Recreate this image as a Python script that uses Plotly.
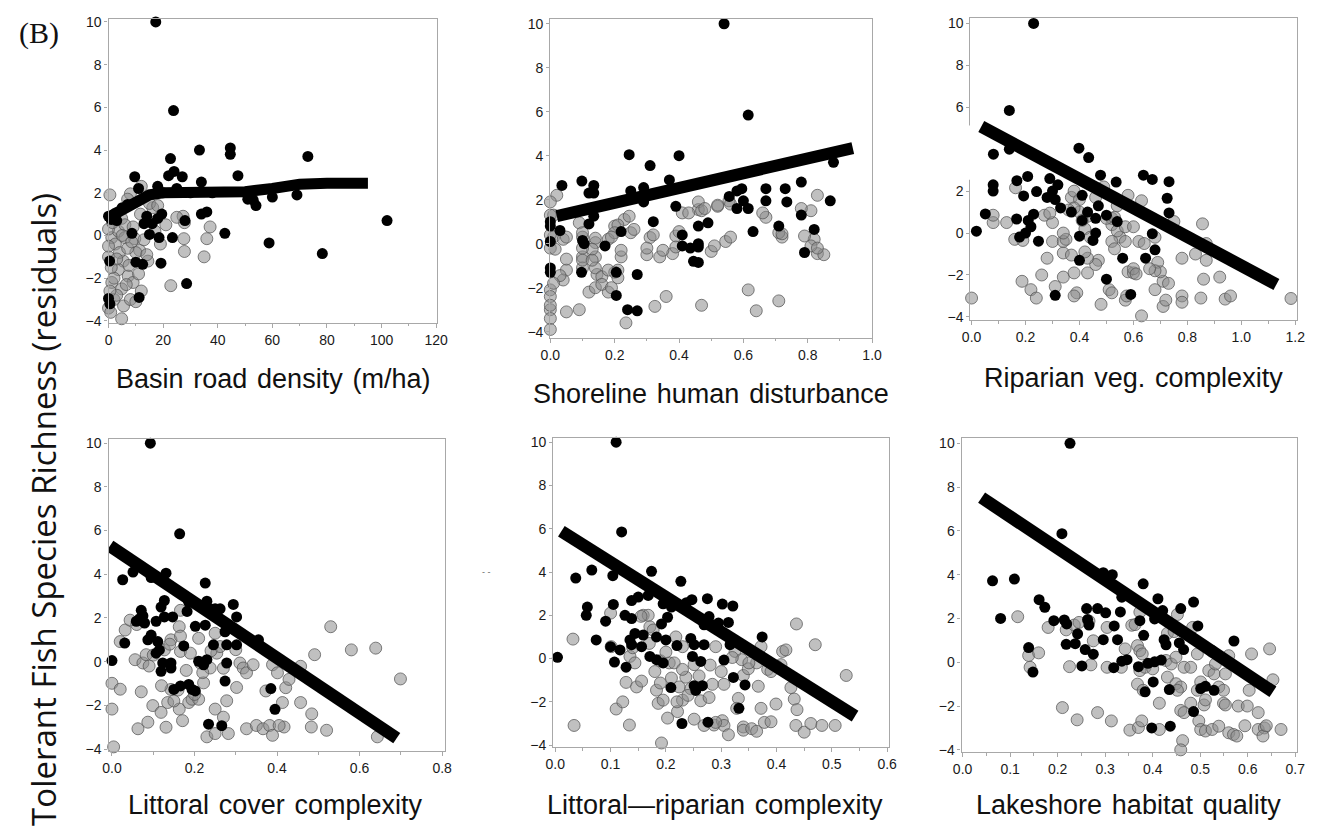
import plotly.graph_objects as go

# ---------------- data ----------------
# Panel 1: Basin road density (m/ha)
p1_black_x = [17.3, 23.8, 33.3, 44.6, 44.6, 73, 22.7, 47.4, 9.6, 34, 22, 24, 27, 60, 69, 51, 53, 54, 102, 34, 36, 28, 42.6, 58.8, 78.3, 28.6, 19.2, 11.2, 0, 0.4, 10, 12.5, 0, 11, 18, 14, 18, 19.5, 13, 16, 23.4, 15, 18.5, 8.6, 1, 3, 5, 7, 20, 25, 30, 38, 0.5]
p1_black_y = [10.0, 5.85, 4.0, 4.1, 3.8, 3.7, 3.6, 2.8, 2.75, 2.5, 2.8, 3.0, 2.75, 1.8, 1.9, 1.7, 1.65, 1.4, 0.7, 1.0, 1.1, 0.7, 0.1, -0.35, -0.85, -2.25, -1.3, -2.9, -2.95, -1.2, -1.25, -1.35, 0.9, 2.2, 2.3, 0.9, 0.8, 1.0, 0.55, 0.55, -0.1, 0.05, -0.1, 0.1, 0.75, 0.7, 1.3, 1.45, 2.0, 2.2, 2.0, 2.0, -3.2]
p1_gray_x = [0.5, 12, 8, 7, 11.7, 27.3, 27.8, 37.2, 36, 27.6, 27.8, 35, 22.8, 16.2, 4.8, 1.2, 2.5, 3.6, 6, 9.6, 11.4, 14.4, 5.4, 3.6, 7.2, 1.2, 4.8, 12, 4.8, 0, 5.5, 2, 8, 0, 0, 0, 2, 9, 10, 6, 9, 13, 15, 2.5, 1, 7.5, 3, 10, 5, 17, 19, 21, 0.5, 4, 7, 25, 18, 1.5, 6.5, 3, 8.5, 11, 0.8, 14]
p1_gray_y = [1.9, 2.3, 1.95, 1.7, 1.0, 0.9, 0.6, 0.4, -0.15, -0.15, -0.75, -1.0, -2.35, 1.3, 0.8, -0.1, -0.4, 0.2, -0.1, -0.15, -0.7, -1.2, -1.2, -1.6, -1.9, -2.2, -2.5, -2.6, -3.9, -3.4, -3.3, -3.0, -3.0, -1.0, -0.5, 0.3, -2.0, -2.2, -0.8, 0.5, 0.4, -0.2, 1.5, 1.0, -1.5, -1.4, -2.8, -3.1, 0.0, 0.2, -0.4, 0.5, -2.6, -0.8, -0.6, 0.85, 1.4, 0.6, -2.3, -1.1, -0.3, -1.8, -3.6, -0.9]
p1_fit_x = [0, 2, 5, 10, 15, 20, 25, 30, 40, 50, 60, 70, 80, 95]
p1_fit_y = [0.85, 1.0, 1.3, 1.65, 1.9, 2.0, 2.0, 2.0, 2.0, 2.05, 2.2, 2.4, 2.45, 2.45]

# Panel 2: Shoreline human disturbance
p2_black_x = [0.54, 0.615, 0.245, 0.40, 0.31, 0.37, 0.098, 0.036, 0.135, 0.12, 0.135, 0.25, 0.29, 0.29, 0.39, 0.556, 0.58, 0.595, 0.6, 0.58, 0.615, 0.67, 0.67, 0.73, 0.735, 0.78, 0.88, 0.87, 0.78, 0.82, 0.79, 0.71, 0.63, 0.46, 0.49, 0.41, 0.41, 0.435, 0.46, 0.46, 0.46, 0.32, 0.22, 0.17, 0.12, 0.135, 0.0, 0.0, 0.0, 0.03, 0.1, 0.105, 0.097, 0.0, 0.0, 0.205, 0.205, 0.24, 0.27, 0.27, 0.445]
p2_black_y = [10.0, 5.85, 4.05, 4.0, 3.55, 2.9, 2.85, 2.65, 2.65, 2.3, 2.3, 2.4, 2.55, 1.9, 1.7, 2.15, 2.4, 2.5, 1.95, 1.6, 1.6, 2.5, 1.95, 2.5, 1.9, 2.8, 3.7, 1.95, 1.3, 0.65, -0.4, 0.8, 0.55, 0.8, 0.95, 0.4, -0.1, -0.2, 0.0, -0.15, -0.85, 1.0, 0.55, -0.1, 0.9, 1.25, 1.0, 0.8, 0.1, 0.6, 0.15, 0.0, -1.3, -1.1, -1.3, -1.3, -2.35, -3.0, -3.05, -1.4, -0.8]
p2_gray_x = [0.615, 0.71, 0.64, 0.47, 0.36, 0.325, 0.235, 0.09, 0.05, 0.0, 0.0, 0.0, 0.0, 0.0, 0.0, 0.12, 0.14, 0.18, 0.05, 0.04, 0.1, 0.1, 0.14, 0.145, 0.2, 0.22, 0.3, 0.34, 0.38, 0.5, 0.545, 0.39, 0.31, 0.25, 0.2, 0.23, 0.18, 0.14, 0.1, 0.01, 0.01, 0.04, 0.72, 0.67, 0.82, 0.83, 0.85, 0.81, 0.46, 0.41, 0.43, 0.52, 0.46, 0.47, 0.48, 0.52, 0.555, 0.56, 0.66, 0.78, 0.83, 0.79, 0.81, 0.83, 0.71, 0.72, 0.56, 0.51, 0.4, 0.39, 0.35, 0.30, 0.22, 0.26, 0.32, 0.245, 0.21, 0.2, 0.19, 0.14, 0.13, 0.09, 0.1, 0.1, 0.1, 0.05, 0.05, 0.02, 0.0, 0.0, 0.0, 0.0, 0.015, 0.03, 0.01, 0.14, 0.13, 0.16, 0.18, 0.21, 0.21, 0.16, 0.19]
p2_gray_y = [-2.1, -2.6, -3.05, -2.8, -2.4, -2.85, -3.6, -3.0, -3.1, -3.0, -3.4, -3.9, -2.1, -2.4, -2.8, -2.2, -2.0, -2.2, -1.2, -1.65, -0.6, -1.1, -0.6, -1.4, -1.3, -0.6, -0.5, -0.6, -0.45, -0.35, 0.1, 0.35, 0.28, 0.5, 0.8, 1.1, 0.2, 0.05, 0.3, 1.3, 0.3, 0.2, 0.3, 1.2, 0.2, -0.45, -0.5, 1.5, 1.55, 1.4, 1.4, 1.7, 1.9, 1.5, 1.6, 1.75, 1.95, 1.8, 1.4, 1.6, 2.2, 0.35, -0.1, -0.2, 0.5, 0.45, 0.3, -0.1, 0.55, -0.15, -0.3, -0.2, -0.3, 0.65, 0.4, 1.25, 0.85, 0.5, 0.3, 0.25, -0.25, 0.95, 0.5, -0.2, -0.75, 0.3, -0.7, 2.2, 1.9, 1.3, 0.4, -0.2, -0.25, -1.45, -1.8, -1.1, -0.75, -1.5, -1.2, -1.2, -1.55, -1.85, -2.0]
p2_fit_x = [0.02, 0.94]
p2_fit_y = [1.25, 4.35]

# Panel 3: Riparian veg. complexity
p3_black_x = [0.23, 0.14, 0.081, 0.14, 0.398, 0.434, 0.08, 0.08, 0.051, 0.018, 0.168, 0.208, 0.193, 0.241, 0.167, 0.178, 0.2, 0.21, 0.22, 0.23, 0.248, 0.28, 0.3, 0.31, 0.29, 0.32, 0.33, 0.37, 0.41, 0.41, 0.43, 0.478, 0.47, 0.46, 0.46, 0.4, 0.45, 0.536, 0.5, 0.54, 0.637, 0.67, 0.732, 0.725, 0.732, 0.67, 0.68, 0.645, 0.56, 0.4, 0.5, 0.31, 0.59]
p3_black_y = [10.0, 5.85, 3.76, 4.0, 4.05, 3.6, 2.3, 2.0, 0.91, 0.09, 2.5, 2.7, 1.77, 1.98, 0.67, -0.19, 0.0, 0.6, 0.3, 0.9, -0.39, 1.7, 2.0, 1.6, 2.6, 2.3, 1.2, 1.0, 1.8, 0.6, 1.0, 2.76, 1.3, 0.7, 0.0, -0.15, -0.35, 2.43, 0.85, 0.55, 2.76, 2.56, 2.45, 1.66, 0.96, -0.03, -0.8, -1.2, -1.2, -1.3, -2.2, -2.97, -2.93]
p3_gray_x = [0.0, 1.184, 0.63, 0.187, 0.22, 0.24, 0.31, 0.26, 0.34, 0.38, 0.43, 0.39, 0.38, 0.48, 0.51, 0.52, 0.57, 0.575, 0.58, 0.6, 0.68, 0.71, 0.73, 0.71, 0.72, 0.78, 0.78, 0.85, 0.94, 0.96, 0.86, 0.92, 0.78, 0.83, 0.87, 0.856, 0.87, 0.75, 0.63, 0.58, 0.69, 0.7, 0.68, 0.66, 0.6, 0.61, 0.55, 0.57, 0.52, 0.53, 0.62, 0.64, 0.68, 0.52, 0.54, 0.57, 0.6, 0.47, 0.46, 0.43, 0.42, 0.34, 0.37, 0.28, 0.3, 0.34, 0.35, 0.34, 0.3, 0.27, 0.29, 0.16, 0.19, 0.13, 0.08, 0.08, 0.163, 0.37, 0.38, 0.4, 0.4, 0.38, 0.36, 0.46, 0.49, 0.52, 0.43, 0.41, 0.42, 0.5, 0.53, 0.54, 0.44]
p3_gray_y = [-3.1, -3.12, -3.95, -2.3, -2.7, -3.1, -2.55, -2.0, -2.1, -1.9, -1.9, -2.85, -3.0, -3.4, -2.7, -2.85, -3.2, -3.0, -1.85, -1.9, -2.7, -2.3, -2.4, -3.5, -3.2, -3.0, -3.3, -3.1, -3.15, -3.0, -2.2, -2.1, -1.2, -1.0, -1.3, 0.44, -0.5, 0.55, 1.54, 1.8, -1.4, -1.85, -1.8, -1.7, -1.7, -1.95, -0.2, -0.4, -0.4, -0.75, -0.4, -0.5, -0.2, 0.4, 0.1, 0.3, 0.3, -1.3, -1.5, -1.2, -0.9, -0.95, -1.05, -1.2, -0.4, -0.4, -0.3, 0.0, 0.5, 0.85, 0.95, -0.3, -0.35, 0.5, 0.5, 0.85, 2.16, 1.7, 2.0, 1.6, 1.0, 1.2, 1.1, 1.7, 2.2, 0.7, 0.8, 0.6, 0.2, 0.7, 0.75, 1.3, -0.2]
p3_fit_x = [0.036, 1.13]
p3_fit_y = [5.08, -2.45]

# Panel 4: Littoral cover complexity
p4_black_x = [0.093, 0.164, 0.026, 0.051, 0.095, 0.131, 0.226, 0.0, 0.031, 0.071, 0.067, 0.075, 0.059, 0.079, 0.107, 0.127, 0.147, 0.119, 0.127, 0.095, 0.111, 0.115, 0.107, 0.087, 0.123, 0.119, 0.143, 0.143, 0.15, 0.166, 0.186, 0.194, 0.202, 0.174, 0.186, 0.182, 0.202, 0.226, 0.21, 0.23, 0.222, 0.23, 0.238, 0.25, 0.262, 0.246, 0.274, 0.278, 0.278, 0.274, 0.294, 0.302, 0.302, 0.355, 0.385, 0.395, 0.234, 0.266]
p4_black_y = [10.0, 5.85, 3.75, 4.1, 3.85, 4.05, 3.6, 0.05, 0.85, 2.35, 1.97, 2.1, 1.85, 1.77, 1.85, 2.05, 2.05, 2.5, 2.8, 1.22, 0.92, 0.54, 0.39, 1.0, -0.06, -0.44, -0.06, -0.29, -1.27, -1.11, -1.04, -1.27, -1.34, 0.72, 2.72, 2.3, 1.62, 1.67, 0.02, 0.09, -0.14, 2.77, 2.42, 2.42, 2.42, 0.77, 1.37, 0.77, -0.06, -0.89, 2.62, 2.05, 0.77, 1.0, -1.23, -2.18, -2.86, -2.93]
p4_gray_x = [0.004, 0.0, 0.0, 0.02, 0.02, 0.032, 0.044, 0.056, 0.075, 0.083, 0.071, 0.063, 0.087, 0.099, 0.119, 0.131, 0.135, 0.143, 0.127, 0.143, 0.163, 0.166, 0.166, 0.163, 0.171, 0.186, 0.194, 0.19, 0.21, 0.214, 0.21, 0.222, 0.238, 0.25, 0.254, 0.262, 0.23, 0.25, 0.27, 0.278, 0.282, 0.302, 0.31, 0.318, 0.326, 0.342, 0.326, 0.35, 0.366, 0.382, 0.389, 0.401, 0.389, 0.373, 0.417, 0.405, 0.413, 0.421, 0.429, 0.457, 0.457, 0.484, 0.483, 0.491, 0.52, 0.53, 0.58, 0.639, 0.699, 0.643, 0.166, 0.06, 0.1, 0.14, 0.09, 0.12, 0.16, 0.2, 0.22, 0.27, 0.24, 0.18, 0.25, 0.3, 0.15]
p4_gray_y = [-3.9, -2.17, -0.99, -1.26, 0.92, 1.45, 1.9, 0.09, -0.06, 0.32, -1.38, -3.07, -2.77, -2.01, -2.32, -3.0, -1.87, -1.27, 0.54, 1.0, 1.6, 1.17, 0.47, -2.17, -2.7, -1.87, -1.72, 0.39, 1.07, -0.06, -1.72, -0.97, -0.29, -2.17, 0.39, 0.69, -3.44, -3.29, -2.54, -1.79, -3.29, -1.18, -0.06, -0.29, -0.51, -0.14, -3.07, -2.92, -3.07, -2.92, -0.14, -0.51, -3.37, -1.34, -2.99, -2.92, -1.87, -1.19, -0.81, -0.21, -1.87, -2.39, -2.99, 0.32, -3.14, 1.6, 0.54, 0.62, -0.79, -3.44, 2.35, 1.7, 0.3, 0.8, -0.2, -1.1, -1.3, -1.5, -0.5, -0.3, 0.5, -0.4, 1.3, 0.55, -1.8]
p4_fit_x = [-0.005, 0.69]
p4_fit_y = [5.3, -3.5]

# Panel 5: Littoral-riparian complexity
p5_black_x = [0.11, 0.12, 0.037, 0.066, 0.104, 0.174, 0.227, 0.004, 0.058, 0.056, 0.074, 0.091, 0.105, 0.1, 0.117, 0.107, 0.128, 0.126, 0.138, 0.138, 0.15, 0.135, 0.144, 0.138, 0.159, 0.156, 0.168, 0.171, 0.183, 0.195, 0.183, 0.192, 0.203, 0.2, 0.195, 0.21, 0.22, 0.237, 0.247, 0.245, 0.251, 0.248, 0.263, 0.269, 0.275, 0.278, 0.269, 0.295, 0.313, 0.302, 0.321, 0.316, 0.305, 0.322, 0.343, 0.374, 0.251, 0.266, 0.254, 0.209, 0.332, 0.229, 0.276]
p5_black_y = [10.0, 5.85, 3.72, 4.09, 3.83, 4.03, 3.57, 0.06, 2.38, 2.0, 0.86, 1.73, 2.5, 0.55, 0.4, -0.16, -0.4, 2.0, 1.85, 2.68, 2.84, 0.86, 1.16, 0.64, 1.09, 0.55, 2.92, 0.1, -0.05, -0.2, 1.0, 1.6, 1.91, 0.86, 2.53, 2.38, 0.6, 2.58, 2.72, 0.93, 0.64, 0.1, -0.13, 0.64, 2.77, 1.94, 1.56, 1.64, 1.67, 2.52, 2.43, 0.64, -0.07, -0.87, -1.22, 1.0, -1.25, -1.25, -1.47, -1.34, -2.3, -3.0, -2.94]
p5_gray_x = [0.032, 0.034, 0.1, 0.101, 0.11, 0.122, 0.134, 0.128, 0.147, 0.156, 0.135, 0.144, 0.159, 0.171, 0.168, 0.177, 0.183, 0.19, 0.186, 0.195, 0.192, 0.203, 0.206, 0.215, 0.218, 0.23, 0.221, 0.23, 0.224, 0.236, 0.245, 0.251, 0.251, 0.269, 0.263, 0.278, 0.284, 0.29, 0.287, 0.302, 0.305, 0.305, 0.313, 0.325, 0.337, 0.331, 0.328, 0.34, 0.349, 0.34, 0.34, 0.355, 0.364, 0.367, 0.372, 0.372, 0.364, 0.384, 0.378, 0.39, 0.399, 0.408, 0.411, 0.417, 0.426, 0.432, 0.437, 0.436, 0.435, 0.45, 0.462, 0.482, 0.506, 0.47, 0.526, 0.14, 0.155, 0.19, 0.2, 0.23, 0.26, 0.28, 0.3, 0.32, 0.18, 0.21, 0.24, 0.22, 0.35, 0.39, 0.4, 0.17, 0.29]
p5_gray_y = [0.9, -3.09, 2.1, 0.55, -2.33, -2.0, -3.07, -1.1, -1.31, -1.04, 0.1, -0.2, 2.0, 1.47, 2.0, 1.32, -1.46, -1.13, -2.07, -1.92, -3.9, -2.75, -0.2, -0.2, 1.0, 0.55, -2.45, -1.92, -1.31, -0.86, -1.39, -0.28, -2.8, -3.09, -1.95, -1.8, -1.19, 0.55, -3.07, -2.87, -3.09, -1.19, -3.52, 0.33, -0.05, -1.84, -2.3, -0.78, -0.47, -3.16, -3.31, -3.24, -3.36, -1.28, 0.55, -2.3, -0.2, -0.5, -2.95, -2.92, -2.1, -0.28, 0.33, 0.4, -1.34, -1.87, -2.36, 1.6, -3.09, -3.4, -3.0, -3.09, -3.09, 0.64, -0.78, 0.5, 1.95, -0.1, 0.3, -0.5, -0.8, -0.3, -0.6, 0.05, -0.6, -0.9, -1.7, -2.0, -0.2, -0.6, -0.35, 0.7, -2.95]
p5_fit_x = [0.011, 0.542]
p5_fit_y = [5.88, -2.66]

# Panel 6: Lakeshore habitat quality
p6_black_x = [0.226, 0.209, 0.063, 0.109, 0.08, 0.161, 0.173, 0.192, 0.214, 0.219, 0.242, 0.218, 0.237, 0.258, 0.251, 0.275, 0.261, 0.284, 0.263, 0.266, 0.301, 0.296, 0.319, 0.318, 0.296, 0.315, 0.332, 0.335, 0.326, 0.335, 0.346, 0.38, 0.373, 0.381, 0.37, 0.39, 0.404, 0.418, 0.401, 0.384, 0.398, 0.437, 0.411, 0.421, 0.404, 0.424, 0.428, 0.435, 0.459, 0.456, 0.465, 0.486, 0.495, 0.486, 0.501, 0.511, 0.529, 0.571, 0.139, 0.148]
p6_black_y = [10.0, 5.87, 3.72, 3.8, 2.0, 2.86, 2.51, 1.9, 1.93, 1.75, 1.3, 0.82, 0.85, 0.58, -0.17, 0.37, 2.45, 2.45, 1.95, 1.7, 2.26, 1.03, 1.66, -0.25, 4.09, 4.0, 2.3, 2.97, 1.03, 0.05, 0.12, 3.58, 1.9, 1.23, -0.2, -0.05, 0.02, 0.1, -0.9, -1.35, -3.0, -2.92, 2.9, 2.36, 1.98, 1.03, 0.8, -1.25, 2.45, 0.88, 0.58, 2.75, 1.66, -2.25, -1.2, -1.1, -1.28, 0.97, 0.67, -0.45]
p6_gray_x = [0.116, 0.139, 0.142, 0.16, 0.18, 0.218, 0.235, 0.245, 0.266, 0.21, 0.241, 0.225, 0.27, 0.275, 0.284, 0.304, 0.304, 0.313, 0.334, 0.342, 0.352, 0.37, 0.377, 0.356, 0.363, 0.373, 0.368, 0.373, 0.378, 0.368, 0.38, 0.373, 0.384, 0.4, 0.414, 0.414, 0.428, 0.439, 0.431, 0.445, 0.431, 0.449, 0.459, 0.452, 0.459, 0.466, 0.463, 0.459, 0.449, 0.452, 0.466, 0.48, 0.48, 0.494, 0.484, 0.494, 0.501, 0.497, 0.501, 0.511, 0.508, 0.511, 0.518, 0.529, 0.532, 0.525, 0.539, 0.539, 0.549, 0.549, 0.553, 0.553, 0.56, 0.56, 0.57, 0.577, 0.58, 0.594, 0.599, 0.603, 0.608, 0.622, 0.622, 0.635, 0.632, 0.639, 0.646, 0.653, 0.67, 0.525]
p6_gray_y = [2.08, 0.31, -0.23, 0.43, 1.59, 1.48, 1.7, 1.82, 1.88, -2.07, -2.63, -0.2, -0.12, 0.98, -2.3, 1.59, -0.23, -2.68, -0.23, 0.61, -3.1, -2.98, -2.68, 1.69, 1.72, 2.29, 0.76, 0.53, 0.38, -1.0, -1.28, -0.38, -0.23, -0.3, -1.87, -3.07, 0.08, -0.08, 1.32, 1.4, -0.68, -0.98, -1.13, -1.28, -2.2, -2.3, -3.58, -4.0, 0.23, 2.18, -0.23, -0.23, -1.87, 0.38, 1.59, -1.28, -0.9, -2.68, -3.07, -3.14, -1.95, -1.72, -0.38, -0.53, -0.08, -3.07, -2.92, -1.13, -1.28, -1.87, -1.95, -0.53, 0.3, -3.22, -3.3, -3.37, -2.0, -2.9, -2.0, -1.28, 0.38, -2.3, -3.07, -3.0, -3.37, -2.9, 0.61, -0.8, -3.07, 0.5]
p6_fit_x = [0.04, 0.653]
p6_fit_y = [7.52, -1.35]

SP = " \u200a"
x_titles = ["Basin" + SP + "road" + SP + "density" + SP + "(m/ha)",
            "Shoreline" + SP + "human" + SP + "disturbance",
            "Riparian" + SP + "veg." + SP + "complexity",
            "Littoral" + SP + "cover" + SP + "complexity",
            "Littoral\u2014riparian" + SP + "complexity",
            "Lakeshore" + SP + "habitat" + SP + "quality"]
y_title = "Tolerant Fish Species Richness (residuals)"
panel_label = "(B)"

# ---------------- layout geometry (screen pixels) ----------------
OFF = 8            # page body margin of the html page
FW, FH = 1319 - OFF, 834 - OFF


def px(X):
    return (X - OFF) / FW


def py(Y):
    return 1 - (Y - OFF) / FH


frames = [  # left, right, top, bottom in screen px
    (100, 434, 14, 322),
    (549, 876, 14, 337),
    (976, 1308, 13, 319),
    (100, 442, 440, 756),
    (552, 893, 439, 752),
    (967, 1308, 439, 757),
]
xranges = [[0, 120.36], [0, 1.0], [-0.004, 1.207], [-0.0083, 0.807], [-0.0036, 0.603], [-0.002, 0.704]]
yranges = [[-4.09, 10.14], [-4.27, 10.22], [-4.14, 10.26], [-4.09, 10.18], [-4.09, 10.18], [-4.1, 10.23]]
xdticks = [20, 0.2, 0.2, 0.2, 0.1, 0.1]
xminor = [10, 0.1, 0.1, 0.1, 0.05, 0.05]
xfmt = [None, ".1f", ".1f", ".1f", ".1f", ".1f"]
title_pos = [(267, 379), (712, 394), (1142, 378), (270, 811), (716, 811), (1137, 811)]
fit_widths = [11, 12, 12.5, 12.5, 12.5, 12.5]

data = [
    (p1_gray_x, p1_gray_y, p1_black_x, p1_black_y, p1_fit_x, p1_fit_y),
    (p2_gray_x, p2_gray_y, p2_black_x, p2_black_y, p2_fit_x, p2_fit_y),
    (p3_gray_x, p3_gray_y, p3_black_x, p3_black_y, p3_fit_x, p3_fit_y),
    (p4_gray_x, p4_gray_y, p4_black_x, p4_black_y, p4_fit_x, p4_fit_y),
    (p5_gray_x, p5_gray_y, p5_black_x, p5_black_y, p5_fit_x, p5_fit_y),
    (p6_gray_x, p6_gray_y, p6_black_x, p6_black_y, p6_fit_x, p6_fit_y),
]

fig = go.Figure()
layout = dict(width=FW, height=FH, margin=dict(l=0, r=0, t=0, b=0),
              paper_bgcolor="white", plot_bgcolor="white", showlegend=False)

tickfont = dict(family="Liberation Sans, Arial, sans-serif", size=14, color="#1a1a1a")
axcol = "#a8a8a8"
annotations = []
shapes = []

for i, (gx, gy, bx, by, fx, fy) in enumerate(data):
    n = "" if i == 0 else str(i + 1)
    xa, ya = "x" + n, "y" + n
    fig.add_trace(go.Scatter(x=gx, y=gy, mode="markers", xaxis=xa, yaxis=ya,
                             marker=dict(size=12, color="rgba(140,140,140,0.55)",
                                         line=dict(color="rgba(85,85,85,0.75)", width=1)),
                             hoverinfo="skip", cliponaxis=False))
    fig.add_trace(go.Scatter(x=bx, y=by, mode="markers", xaxis=xa, yaxis=ya,
                             marker=dict(size=11, color="black", line=dict(width=0)),
                             hoverinfo="skip", cliponaxis=False))
    fig.add_trace(go.Scatter(x=fx, y=fy, mode="lines", xaxis=xa, yaxis=ya,
                             line=dict(color="black", width=fit_widths[i]), hoverinfo="skip"))
    l, r, t, b = frames[i]
    xdom = [px(l), px(r)]
    ydom = [py(b), py(t)]
    xax = dict(domain=xdom, range=xranges[i], anchor=ya, showgrid=False, zeroline=False,
               showline=True, linecolor=axcol, linewidth=1.3, mirror=True,
               ticks="outside", ticklen=4, tickcolor=axcol, tickwidth=1,
               dtick=xdticks[i], tick0=0, tickfont=tickfont,
               minor=dict(dtick=xminor[i], tick0=0, ticks="outside", ticklen=2.5, tickcolor=axcol))
    if xfmt[i]:
        xax["tickformat"] = xfmt[i]
    yvals = [-4, -2, 0, 2, 4, 6, 8, 10]
    if i == 2:
        yvals = [-4, -2, 0, 2, 6, 8, 10]
    yax = dict(domain=ydom, range=yranges[i], anchor=xa, showgrid=False, zeroline=False,
               showline=True, linecolor=axcol, linewidth=1.3, mirror=True,
               ticks="outside", ticklen=3, tickcolor=axcol, tickwidth=1,
               tickvals=yvals, ticktext=[("\u2212" + str(-v)) if v < 0 else str(v) for v in yvals],
               tickfont=tickfont)
    layout["xaxis" + n] = xax
    layout["yaxis" + n] = yax
    tx, ty = title_pos[i]
    annotations.append(dict(text=x_titles[i], x=px(tx), y=py(ty), xref="paper", yref="paper",
                            showarrow=False, xanchor="center", yanchor="middle",
                            font=dict(family="Liberation Sans, Arial, sans-serif", size=27, color="#111")))

# broken y-axis segment in panel 3
shapes.append(dict(type="rect", xref="paper", yref="paper", x0=px(972), x1=px(979),
                   y0=py(177), y1=py(122), fillcolor="white", line=dict(width=0), layer="above"))

annotations.append(dict(text=y_title, x=px(34), y=py(511), xref="paper", yref="paper",
                        showarrow=False, textangle=-90, xanchor="center", yanchor="middle",
                        font=dict(family="Open Sans, sans-serif", size=33, color="#111")))
annotations.append(dict(text=panel_label, x=px(29), y=py(28), xref="paper", yref="paper",
                        showarrow=False, xanchor="center", yanchor="middle",
                        font=dict(family="Liberation Serif, Times New Roman, serif", size=30, color="#111")))
annotations.append(dict(text="- -", x=px(484), y=py(582), xref="paper", yref="paper",
                        showarrow=False, font=dict(family="Liberation Sans", size=9, color="#666")))

layout["annotations"] = annotations
layout["shapes"] = shapes
fig.update_layout(**layout)
fig.write_html("out.html")
